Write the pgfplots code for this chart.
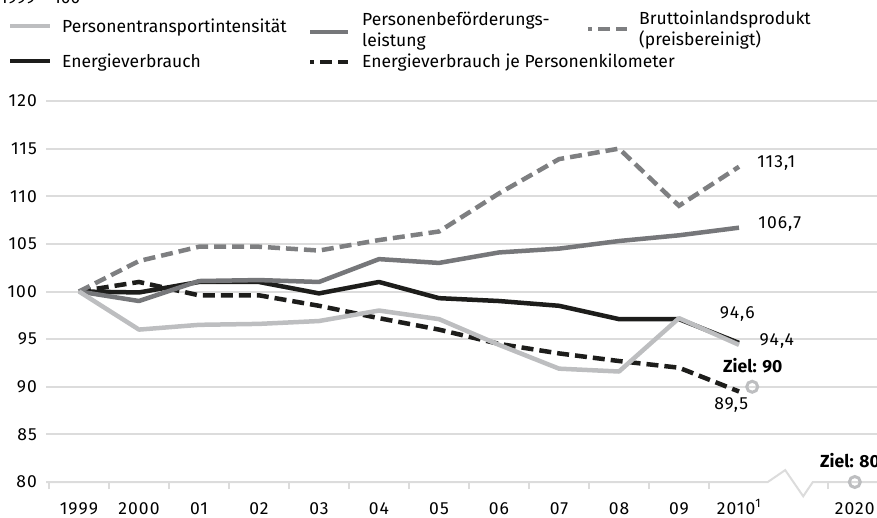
\documentclass[border=0pt]{standalone}
\usepackage{fontspec}
\setmainfont{Fira Sans}
\newfontfamily\numfont[LetterSpace=6]{Fira Sans}
\usepackage{pgfplots}
\pgfplotsset{compat=1.18}
\definecolor{lgray}{HTML}{BDBEC0}
\definecolor{mgray}{HTML}{76777A}
\definecolor{dgray}{HTML}{7E7F81}
\definecolor{blk}{HTML}{1D1D1B}
\definecolor{gridc}{HTML}{DCDCDC}
\newcommand{\fs}{\fontsize{17.5}{21}\selectfont}
\newcommand{\nfs}{\numfont\fontsize{17.5}{21}\selectfont}
\begin{document}
\begin{tikzpicture}[x=1pt,y=1pt]
\begin{axis}[
 at={(46pt,35pt)}, anchor=south west, scale only axis, width=831pt, height=381pt,
 xmin=-0.55, xmax=13.3, ymin=80, ymax=120, clip=false,
 axis line style={draw=none},
 ytick={85,90,...,120},
 extra y ticks={80}, extra y tick style={grid=none},
 ymajorgrids, grid style={draw=gridc, line width=2pt},
 major tick length=0pt,
 xtick={0,1,2,3,4,5,6,7,8,9,10,11,12.93},
 xticklabels={1999,2000,01,02,03,04,05,06,07,08,09,2010\textsuperscript{1},2020},
 minor xtick={-0.5,0.5,1.5,2.5,3.5,4.5,5.5,6.5,7.5,8.5,9.5,10.5,12.48},
 minor tick length=7pt,
 xtick pos=left, ytick pos=left,
 tick align=outside,
 minor tick style={draw=gridc, line width=2pt},
 major tick style={draw=none},
 /pgf/number format/assume math mode=true,
 ticklabel style={font=\nfs},
 yticklabel style={anchor=east, inner sep=0pt, xshift=-9pt},
 xticklabel style={anchor=base, inner sep=0pt, yshift=-32pt},
]
\draw[gridc, line width=2pt] (axis cs:-0.55,80) -- (axis cs:11.48,80) -- (axis cs:11.77,81.25) -- (axis cs:12.07,78.5) -- (axis cs:12.23,80) -- (axis cs:13.3,80);

% Energieverbrauch
\addplot[blk, line width=4.5pt, line join=round] coordinates {
(0,100) (1,99.9) (2,101.0) (3,101.0) (4,99.8) (5,101.0) (6,99.3) (7,99.0) (8,98.5) (9,97.1) (10,97.1) (11,94.6)};
% Energieverbrauch je Personenkilometer
\addplot[blk, line width=4.5pt, dash pattern=on 12pt off 6pt] coordinates {
(0,100) (1,101.0) (2,99.6) (3,99.6) (4,98.5) (5,97.2) (6,96.0) (7,94.5) (8,93.5) (9,92.7) (10,92.0) (11,89.5)};
% Personenbefoerderungsleistung
\addplot[mgray, line width=4.5pt, line join=round] coordinates {
(0,100) (1,99.0) (2,101.1) (3,101.2) (4,101.0) (5,103.4) (6,103.0) (7,104.1) (8,104.5) (9,105.3) (10,105.9) (11,106.7)};
% BIP
\addplot[dgray, line width=4.5pt, dash pattern=on 12pt off 6pt] coordinates {
(0,100) (1,103.2) (2,104.7) (3,104.7) (4,104.3) (5,105.4) (6,106.3) (7,110.3) (8,113.9) (9,115.0) (10,109.0) (11,113.1)};
% Personentransportintensitaet
\addplot[lgray, line width=4.5pt, line join=round] coordinates {
(0,100) (1,96.0) (2,96.5) (3,96.6) (4,96.9) (5,98.0) (6,97.1) (7,94.4) (8,91.9) (9,91.6) (10,97.2) (11,94.4)};
% Ziele
\addplot[only marks, mark=o, mark size=5.5pt, mark options={draw=lgray, line width=3pt, fill=white}] coordinates {(11.22,90) (12.93,80)};

\node[font=\nfs] at (axis cs:11.62,113.5) {113,1};
\node[font=\nfs] at (axis cs:11.68,107.1) {106,7};
\node[font=\nfs] at (axis cs:10.97,97.6) {94,6};
\node[font=\nfs] at (axis cs:11.63,94.75) {94,4};
\node[font=\fs\bfseries] at (axis cs:11.23,92.2) {Ziel: 90};
\node[font=\nfs] at (axis cs:10.87,88.1) {89,5};
\node[anchor=west, font=\fs\bfseries, inner sep=0pt] at (axis cs:12.35,82.25) {Ziel: 80};
\end{axis}

\begin{scope}[every node/.style={anchor=base west, inner sep=0pt, font=\fs}]
\node at (0,513) {1999 = 100};
\draw[lgray, line width=4pt] (10,491) -- (50,491);
\node at (62,484) {Personentransportintensität};
\draw[mgray, line width=4pt] (310,485) -- (348,485);
\node at (362,491) {Personenbeförderungs-};
\node at (362,470) {leistung};
\draw[dgray, line width=4pt, dash pattern=on 12pt off 6pt, dash phase=8pt] (588,488) -- (627,488);
\node at (639,492) {Bruttoinlandsprodukt};
\node at (639,471) {(preisbereinigt)};
\draw[blk, line width=4pt] (10,456) -- (50,456);
\node at (62,449) {Energieverbrauch};
\draw[blk, line width=4pt, dash pattern=on 12pt off 6pt, dash phase=8pt] (310,455) -- (348,455);
\node at (362,449) {Energieverbrauch je Personenkilometer};
\end{scope}
\pgfresetboundingbox
\path[use as bounding box] (0,0) rectangle (877,517);
\end{tikzpicture}
\end{document}
